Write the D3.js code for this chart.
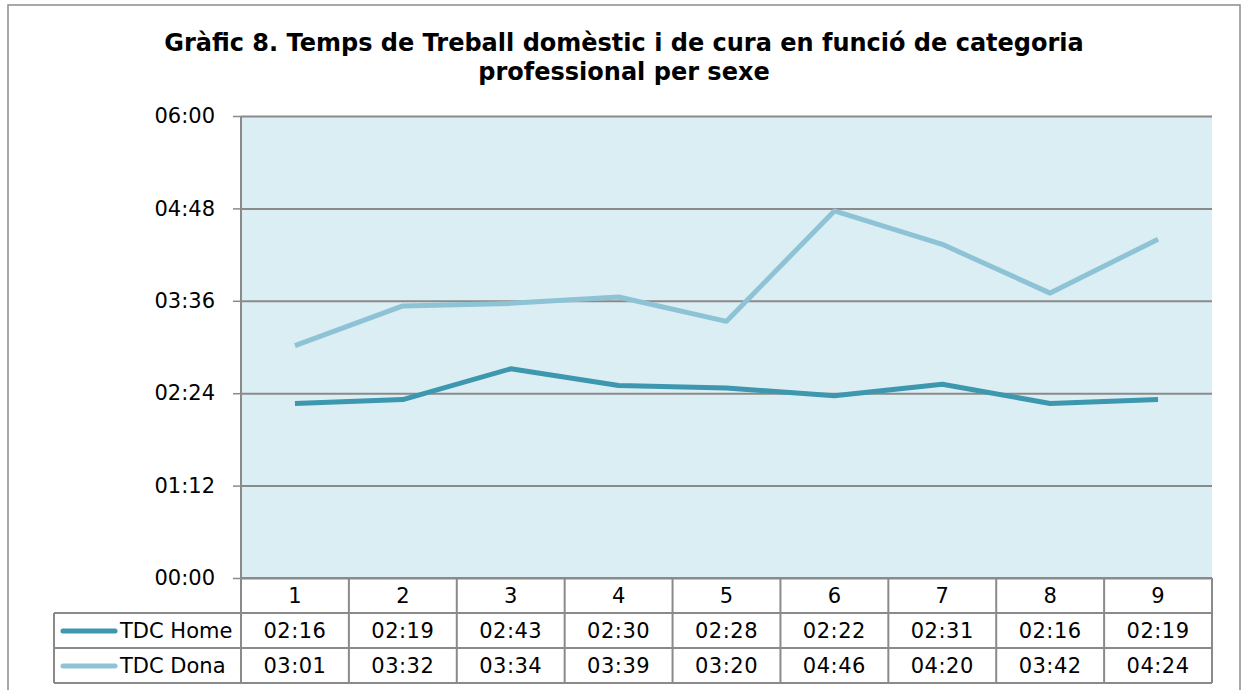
<!DOCTYPE html>
<html>
<head>
<meta charset="utf-8">
<script src="https://cdn.jsdelivr.net/npm/d3@7"></script>
<style>
  body { margin: 0; background: #fff; }
  svg { font-family: "DejaVu Sans", Verdana, sans-serif; }
</style>
</head>
<body>
<svg id="chart" width="1241" height="690"></svg>
<script>
"use strict";

const titleLines = ["Gràfic 8. Temps de Treball domèstic i de cura en funció de categoria",
  "professional per sexe"];
const categories = ["1", "2", "3", "4", "5", "6", "7", "8", "9"];
const seriesNames = ["TDC Home", "TDC Dona"];
const homeValues = ["02:16", "02:19", "02:43", "02:30", "02:28", "02:22", "02:31", "02:16", "02:19"];
const donaValues = ["03:01", "03:32", "03:34", "03:39", "03:20", "04:46", "04:20", "03:42", "04:24"];
const yTicks = ["00:00", "01:12", "02:24", "03:36", "04:48", "06:00"];
const colours = ["#3d97ae", "#8ec3d6"];

function toMinutes(s) {
  let p = s.split(":");
  return (+p[0]) * 60 + (+p[1]);
}

let svg = d3.select("svg#chart");

let plot = { left: 241, right: 1212, top: 116, bottom: 578 };
let rowH = 35;
let legendLeft = 54;

// outer frame
svg.append("rect")
  .attr("x", 8).attr("y", 5)
  .attr("width", 1232).attr("height", 700)
  .attr("fill", "none")
  .attr("stroke", "#8c8c8c")
  .attr("stroke-width", 1.5);

// title
svg.append("g").selectAll("text")
  .data(titleLines)
  .enter()
  .append("text")
  .attr("x", 624)
  .attr("y", (d, i) => 51 + i * 29)
  .attr("text-anchor", "middle")
  .attr("font-weight", "bold")
  .attr("font-size", "24px")
  .attr("fill", "#000")
  .text(d => d);

let yScale = d3.scaleLinear()
  .domain([0, 360])
  .range([plot.bottom, plot.top]);

let xScale = d3.scaleBand()
  .domain(categories)
  .range([plot.left, plot.right]);

// plot background
svg.append("rect")
  .attr("x", plot.left).attr("y", plot.top)
  .attr("width", plot.right - plot.left)
  .attr("height", plot.bottom - plot.top)
  .attr("fill", "#dbeef4");

// grid lines + y axis
let yAxis = d3.axisLeft(yScale)
  .tickValues(yTicks.map(toMinutes))
  .tickFormat((d, i) => yTicks[i])
  .tickSize(-(plot.right - plot.left))
  .tickPadding(26);

let yg = svg.append("g")
  .attr("transform", `translate(${plot.left},0)`)
  .call(yAxis);
yg.select(".domain").remove();
yg.selectAll(".tick line")
  .attr("stroke", "#8a8a8a")
  .attr("stroke-width", 2);
yg.selectAll(".tick")
  .append("line")
  .attr("x1", -8).attr("x2", 0)
  .attr("stroke", "#8a8a8a")
  .attr("stroke-width", 1.5);
yg.selectAll(".tick text")
  .attr("font-size", "21px")
  .attr("font-family", "DejaVu Sans, Verdana, sans-serif")
  .attr("fill", "#000");

// left border of plot
svg.append("line")
  .attr("x1", plot.left).attr("x2", plot.left)
  .attr("y1", plot.top).attr("y2", plot.bottom)
  .attr("stroke", "#8a8a8a")
  .attr("stroke-width", 2);

// lines
let series = [homeValues, donaValues];
let line = d3.line()
  .x((d, i) => xScale(categories[i]) + xScale.bandwidth() / 2)
  .y(d => yScale(toMinutes(d)));

svg.append("g").selectAll("path")
  .data(series)
  .enter()
  .append("path")
  .attr("d", d => line(d))
  .attr("fill", "none")
  .attr("stroke", (d, i) => colours[i])
  .attr("stroke-width", 5)
  .attr("stroke-linejoin", "round");

// data table
let table = svg.append("g");
let gridColour = "#8a8a8a";

// horizontal lines
[0, 1, 2, 3].forEach(r => {
  table.append("line")
    .attr("x1", r == 0 ? plot.left : legendLeft)
    .attr("x2", plot.right)
    .attr("y1", plot.bottom + r * rowH)
    .attr("y2", plot.bottom + r * rowH)
    .attr("stroke", gridColour)
    .attr("stroke-width", 2);
});

// vertical lines
let colEdges = categories.map(c => xScale(c)).concat([plot.right]);
colEdges.forEach(x => {
  table.append("line")
    .attr("x1", x).attr("x2", x)
    .attr("y1", plot.bottom)
    .attr("y2", plot.bottom + 3 * rowH)
    .attr("stroke", gridColour)
    .attr("stroke-width", 2);
});
table.append("line")
  .attr("x1", legendLeft).attr("x2", legendLeft)
  .attr("y1", plot.bottom + rowH)
  .attr("y2", plot.bottom + 3 * rowH)
  .attr("stroke", gridColour)
  .attr("stroke-width", 2);

// category labels
table.selectAll("text.cat")
  .data(categories)
  .enter()
  .append("text")
  .attr("class", "cat")
  .attr("x", d => xScale(d) + xScale.bandwidth() / 2)
  .attr("y", plot.bottom + 25)
  .attr("text-anchor", "middle")
  .attr("font-size", "21px")
  .text(d => d);

// value rows
series.forEach((values, r) => {
  let y = plot.bottom + (r + 1) * rowH + 25;
  table.selectAll(`text.val${r}`)
    .data(values)
    .enter()
    .append("text")
    .attr("class", `val${r}`)
    .attr("x", (d, i) => xScale(categories[i]) + xScale.bandwidth() / 2)
    .attr("y", y)
    .attr("text-anchor", "middle")
    .attr("font-size", "21px")
    .attr("letter-spacing", "0.5px")
    .text(d => d);

  // legend key
  table.append("line")
    .attr("x1", 63).attr("x2", 115)
    .attr("y1", plot.bottom + (r + 1) * rowH + 18)
    .attr("y2", plot.bottom + (r + 1) * rowH + 18)
    .attr("stroke", colours[r])
    .attr("stroke-width", 5)
    .attr("stroke-linecap", "round");
  table.append("text")
    .attr("x", 120)
    .attr("y", y)
    .attr("font-size", "21px")
    .text(seriesNames[r]);
});
</script>
</body>
</html>
